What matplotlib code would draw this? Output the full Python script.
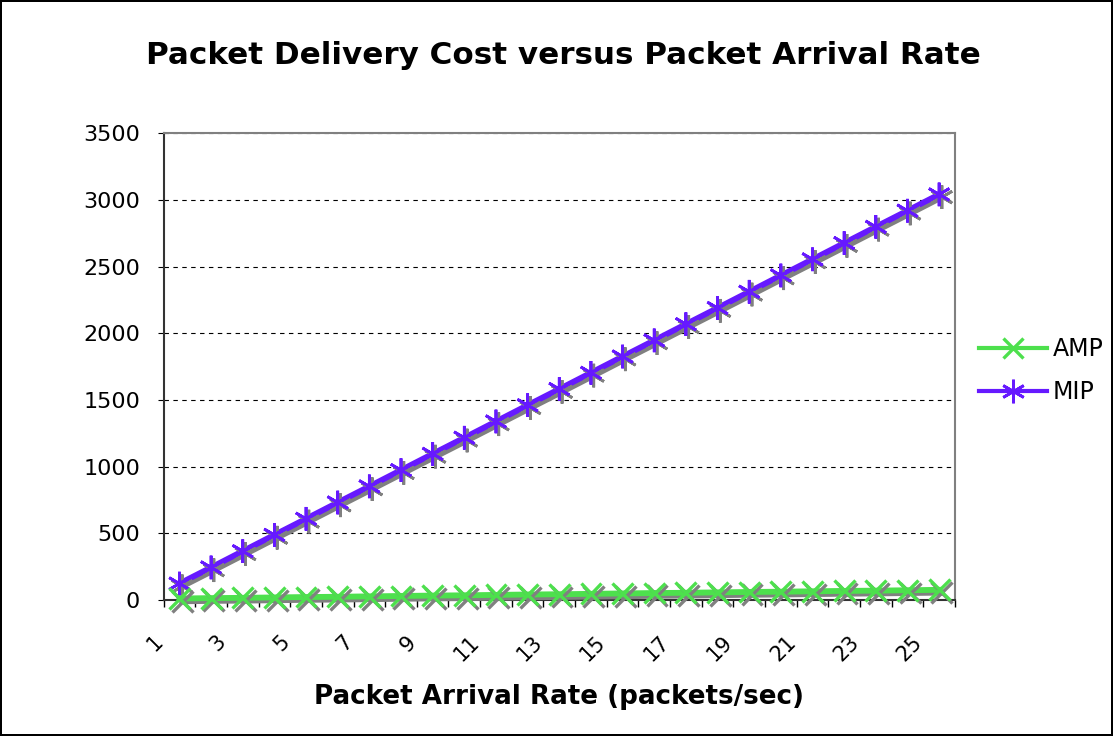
import numpy as np
import matplotlib
matplotlib.use("Agg")
import matplotlib.pyplot as plt
import matplotlib.patheffects as pe
from matplotlib.transforms import ScaledTranslation

# data
rate = list(range(1, 26))
mip = [122, 243, 365, 487, 608, 730, 851, 973, 1095, 1216, 1338, 1460, 1581,
       1703, 1825, 1946, 2068, 2189, 2311, 2433, 2554, 2676, 2798, 2919, 3041]
amp = [10, 13, 15, 18, 21, 23, 26, 29, 32, 34, 37, 40, 42,
       45, 48, 51, 53, 56, 59, 61, 64, 67, 69, 72, 75]
label_pos = rate[::2]
xlabels = [str(r) for r in label_pos]

green = '#4DE04D'
purple = '#6619FF'

fig = plt.figure(figsize=(11.13, 7.36), dpi=100)
fig.patch.set_edgecolor('black')
fig.patch.set_linewidth(1.5)
ax = fig.add_axes([0.147, 0.185, 0.711, 0.634])

shadow = [pe.SimpleLineShadow(offset=(2, -2), shadow_color='#808080', alpha=1), pe.Normal()]

l2, = ax.plot(rate, mip, color=purple, lw=4.2, marker=(6, 2, 0), ms=17, mew=2,
              path_effects=shadow, label='MIP', zorder=4, clip_on=False)
l1, = ax.plot(rate, amp, color=green, lw=4.2, marker='x', ms=15, mew=2.4,
              path_effects=shadow, label='AMP', zorder=5, clip_on=False)

ax.set_xlim(0.5, 25.5)
ax.set_ylim(0, 3500)
ax.set_yticks(np.arange(0, 3501, 500))
ax.yaxis.grid(True, color='black', linestyle=(0, (4, 4)), lw=0.8)
ax.set_axisbelow(True)

# category boundaries get tick marks, labels sit at every other category
ax.set_xticks(np.arange(0.5, 26, 1))
ax.set_xticklabels([])
ax.tick_params(axis='x', length=5, direction='out', width=1)
# excel puts the rotated labels below and left of the category centre
lab_tr = ax.get_xaxis_transform() + ScaledTranslation(-0.20, -0.39, fig.dpi_scale_trans)
for p, t in zip(label_pos, xlabels):
    ax.text(p, 0, t, transform=lab_tr, rotation=45, ha='right', va='center',
            rotation_mode='anchor', fontsize=15, clip_on=False)
ax.tick_params(axis='y', length=4.5, direction='out', labelsize=16, pad=12.5)

for s in ['top', 'right']:
    ax.spines[s].set_color('#808080')
    ax.spines[s].set_linewidth(1.5)
for s in ['left', 'bottom']:
    ax.spines[s].set_color('#333333')
    ax.spines[s].set_linewidth(1.5)

fig.text(0.506, 0.925, 'Packet Delivery Cost versus Packet Arrival Rate', fontsize=22.3,
         fontweight='bold', ha='center', va='center')
fig.text(0.502, 0.053, 'Packet Arrival Rate (packets/sec)', ha='center', va='center',
         fontsize=18.8, fontweight='bold')

leg = fig.legend(handles=[l1, l2], loc='center left', bbox_to_anchor=(0.880, 0.496),
                 frameon=False, fontsize=17, handlelength=2.85, handletextpad=0.25,
                 labelspacing=0.8, borderpad=0, borderaxespad=0)
for h in leg.legend_handles:
    h.set_path_effects([])
    h.set_linewidth(3)

fig.savefig('out.png', dpi=100, edgecolor=fig.get_edgecolor())
